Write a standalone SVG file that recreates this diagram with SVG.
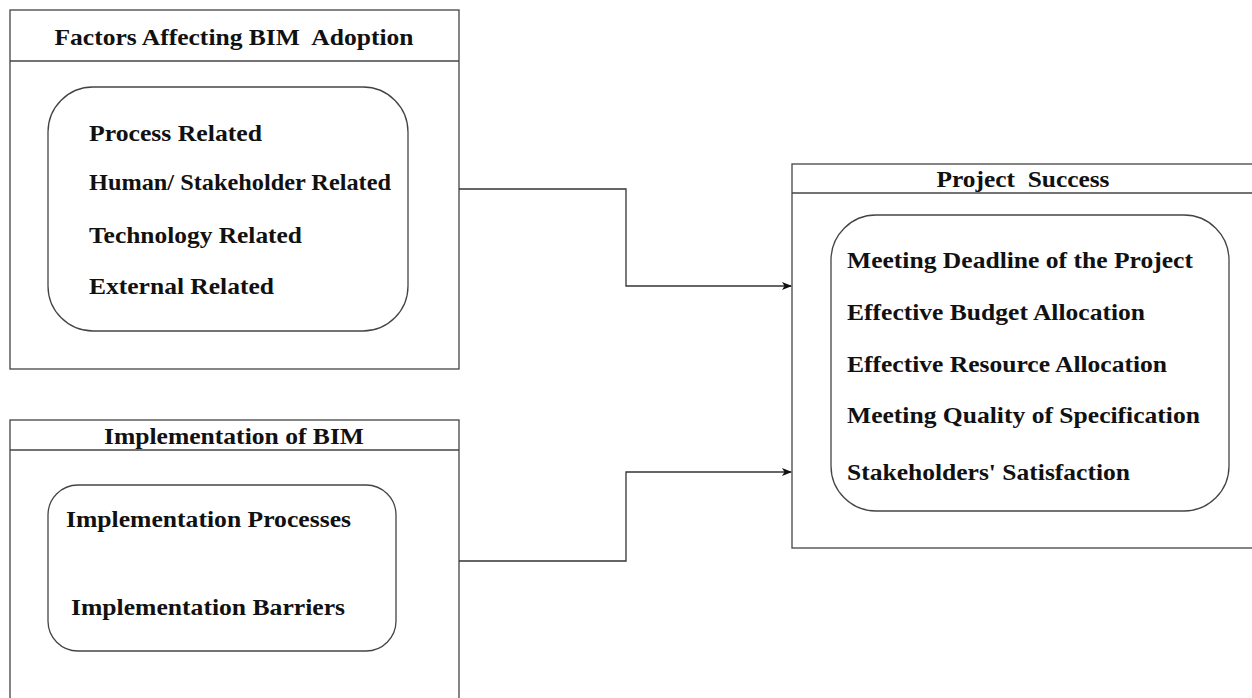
<svg xmlns="http://www.w3.org/2000/svg" width="1252" height="698" viewBox="0 0 1252 698">
<style>
.frame{fill:#fff;stroke:#444;stroke-width:1.3}
.inner{fill:none;stroke:#444;stroke-width:1.3}
.t{font-family:"Liberation Serif","Times New Roman",serif;font-weight:bold;font-size:23px;fill:#111;white-space:pre}
.title{text-anchor:middle}
.conn{fill:none;stroke:#333;stroke-width:1.3}
</style>
<defs>
<marker id="arr" viewBox="0 0 10 10" refX="9" refY="5" markerWidth="10" markerHeight="10" markerUnits="userSpaceOnUse" orient="auto">
<path d="M0,1 L10,5 L0,9 L2.5,5 Z" fill="#111"/>
</marker>
</defs>
<rect width="1252" height="698" fill="#fff"/>
<g id="factors">
<rect class="frame" x="10" y="10" width="449" height="359"/>
<line class="frame" x1="10" y1="61" x2="459" y2="61"/>
<text class="t title" x="234" y="45" textLength="359" lengthAdjust="spacingAndGlyphs" xml:space="preserve">Factors Affecting BIM  Adoption</text>
<rect class="inner" x="48" y="87" width="360" height="244" rx="45" ry="45"/>
<text class="t" x="89" y="141" textLength="173" lengthAdjust="spacingAndGlyphs">Process Related</text>
<text class="t" x="89" y="190" textLength="302" lengthAdjust="spacingAndGlyphs">Human/ Stakeholder Related</text>
<text class="t" x="89" y="243" textLength="213" lengthAdjust="spacingAndGlyphs">Technology Related</text>
<text class="t" x="89" y="294" textLength="185" lengthAdjust="spacingAndGlyphs">External Related</text>
</g>
<g id="implementation">
<rect class="frame" x="10" y="420" width="449" height="290"/>
<line class="frame" x1="10" y1="450" x2="459" y2="450"/>
<text class="t title" x="234" y="444" textLength="260" lengthAdjust="spacingAndGlyphs">Implementation of BIM</text>
<rect class="inner" x="48" y="485" width="348" height="166" rx="30" ry="30"/>
<text class="t" x="66" y="527" textLength="285" lengthAdjust="spacingAndGlyphs">Implementation Processes</text>
<text class="t" x="71" y="615" textLength="274" lengthAdjust="spacingAndGlyphs">Implementation Barriers</text>
</g>
<g id="success">
<rect class="frame" x="792" y="164" width="470" height="384"/>
<line class="frame" x1="792" y1="193" x2="1262" y2="193"/>
<text class="t title" x="1023" y="187" textLength="173" lengthAdjust="spacingAndGlyphs" xml:space="preserve">Project  Success</text>
<rect class="inner" x="831" y="215" width="398" height="296" rx="45" ry="45"/>
<text class="t" x="847" y="268" textLength="346" lengthAdjust="spacingAndGlyphs">Meeting Deadline of the Project</text>
<text class="t" x="847" y="320" textLength="298" lengthAdjust="spacingAndGlyphs">Effective Budget Allocation</text>
<text class="t" x="847" y="372" textLength="320" lengthAdjust="spacingAndGlyphs">Effective Resource Allocation</text>
<text class="t" x="847" y="423" textLength="353" lengthAdjust="spacingAndGlyphs">Meeting Quality of Specification</text>
<text class="t" x="847" y="480" textLength="283" lengthAdjust="spacingAndGlyphs">Stakeholders' Satisfaction</text>
</g>
<g id="connectors">
<path class="conn" d="M459,189 H626 V286 H791" marker-end="url(#arr)"/>
<path class="conn" d="M459,561 H626 V472 H791" marker-end="url(#arr)"/>
</g>
</svg>
